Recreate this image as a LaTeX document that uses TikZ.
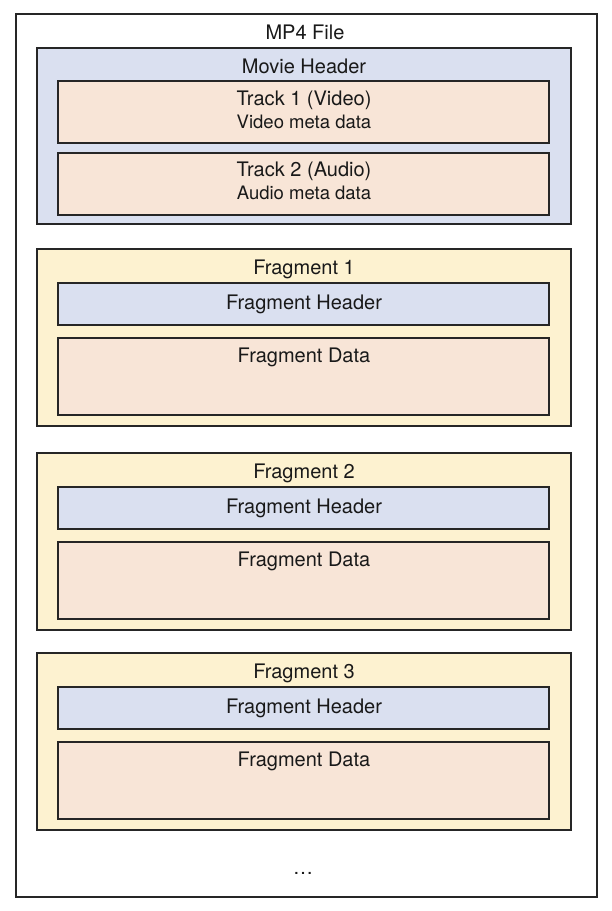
\documentclass[tikz,border=0pt]{standalone}
\usepackage{fontspec}
\setmainfont{TeX Gyre Heros}
\definecolor{hdrblue}{HTML}{DAE0F0}
\definecolor{peach}{HTML}{F8E5D7}
\definecolor{fragyel}{HTML}{FDF2D0}
\begin{document}
\begin{tikzpicture}[x=1pt,y=-1pt,
  box/.style={draw=black!85,line width=1.6pt,anchor=north west,inner sep=0pt,outer sep=0pt},
  lbl/.style={font=\fontsize{20}{22}\selectfont,text=black!90,inner sep=0pt,anchor=base},
  sub/.style={font=\fontsize{18.5}{20}\selectfont,text=black!90,inner sep=0pt,anchor=base}]
\useasboundingbox (0,0) rectangle (611,911);
\node[box,fill=white,minimum width=581pt,minimum height=883pt] (file) at (16,14) {};
\node[lbl] (filet) at (305,39) {MP4 File};
% movie header
\node[box,fill=hdrblue,minimum width=534pt,minimum height=176pt] (movie) at (37,48) {};
\node[lbl] (moviet) at (304,73) {Movie Header};
\node[box,fill=peach,minimum width=491pt,minimum height=62pt] (t1) at (58,81) {};
\node[lbl] (t1a) at (304,105) {Track 1 (Video)};
\node[sub] (t1b) at (304,128) {Video meta data};
\node[box,fill=peach,minimum width=491pt,minimum height=62pt] (t2) at (58,153) {};
\node[lbl] (t2a) at (304,176) {Track 2 (Audio)};
\node[sub] (t2b) at (304,199) {Audio meta data};
% fragments
\foreach \i/\y in {1/249,2/453,3/653}{
  \node[box,fill=fragyel,minimum width=534pt,minimum height=177pt] (frag\i) at (37,\y) {};
  \node[lbl] (frag\i t) at (304,\y+25) {Fragment \i};
  \node[box,fill=hdrblue,minimum width=491pt,minimum height=42pt] (fh\i) at (58,\y+34) {};
  \node[lbl] (fh\i t) at (304,\y+60) {Fragment Header};
  \node[box,fill=peach,minimum width=491pt,minimum height=77pt] (fd\i) at (58,\y+89) {};
  \node[lbl] (fd\i t) at (304,\y+113) {Fragment Data};
}
\node[lbl] (dots) at (303,874) {\dots};
\end{tikzpicture}
\end{document}
